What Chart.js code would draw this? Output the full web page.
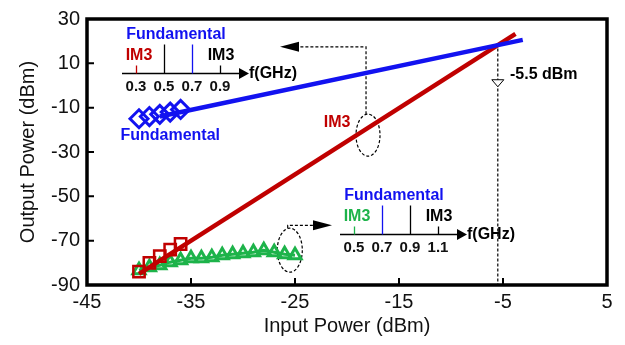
<!DOCTYPE html>
<html>
<head>
<meta charset="utf-8">
<script src="https://cdn.jsdelivr.net/npm/chart.js@4.4.1/dist/chart.umd.min.js"></script>
<style>
  html, body { margin: 0; padding: 0; background: #fff; }
</style>
</head>
<body>
<canvas id="chart" width="625" height="345"></canvas>
<script>
// measured points (input power dBm -> output power dBm)
var fundIn = [-40, -39, -38, -37, -36];
var fundOut = [-15, -14, -13, -12, -10.8];
var im3In = [-40, -39, -38, -37, -36];
var im3Out = [-84, -80, -77, -74, -71.5];
var im3bIn = [-40, -39, -38, -37, -36, -35, -34, -33, -32, -31, -30, -29, -28, -27, -26, -25];
var im3bOut = [-83.3, -82, -81.1, -79.7, -78.8, -77.9, -77.9, -77.5, -76.6, -76.1, -75.7, -75.2, -74.3, -75.2, -76.1, -76.6];

// fitted lines (end points)
var fundFitIn = [-38, -3.1];
var fundFitOut = [-14, 20.6];
var im3FitIn = [-40, -3.8];
var im3FitOut = [-85, 23.3];

var iip3 = -5.5;

var BLUE = '#1212f0';
var RED = '#c00000';
var GREEN = '#1db34a';
var FONT = "'Liberation Sans', Arial, sans-serif";

function pts(xs, ys) {
    return xs.map(function (x, i) { return { x: x, y: ys[i] }; });
}

// small spectrum insets, anchored at the left end of their f axis
var insets = [
    {
        at: [-41.6, 5.8],
        ticks: ['0.3', '0.5', '0.7', '0.9'],
        colors: [RED, '#000', BLUE, '#000'],
        im3Color: RED
    },
    {
        at: [-20.67, -67.2],
        ticks: ['0.5', '0.7', '0.9', '1.1'],
        colors: [GREEN, BLUE, '#000', '#000'],
        im3Color: GREEN
    }
];

var decor = {
    id: 'decor',
    beforeDatasetsDraw: function (chart) {
        var ctx = chart.ctx, a = chart.chartArea;
        var xs = chart.scales.x, ys = chart.scales.y;
        ctx.save();
        ctx.strokeStyle = '#000';
        // inward ticks
        ctx.lineWidth = 2;
        ctx.beginPath();
        xs.ticks.forEach(function (t) {
            var px = xs.getPixelForValue(t.value);
            ctx.moveTo(px, a.bottom);
            ctx.lineTo(px, a.bottom - 7);
        });
        ys.ticks.forEach(function (t) {
            var py = ys.getPixelForValue(t.value);
            ctx.moveTo(a.left, py);
            ctx.lineTo(a.left + 7, py);
        });
        ctx.stroke();
        ctx.lineWidth = 3.5;
        ctx.strokeRect(a.left, a.top, a.right - a.left, a.bottom - a.top);

        // dashed helpers
        ctx.lineWidth = 1.2;
        ctx.setLineDash([3, 2]);
        var X = function (v) { return xs.getPixelForValue(v); };
        var Y = function (v) { return ys.getPixelForValue(v); };
        // IIP3 vertical
        ctx.beginPath();
        ctx.moveTo(X(iip3), Y(19));
        ctx.lineTo(X(iip3), a.bottom);
        ctx.stroke();
        // ellipse on IM3 line + arrow to upper inset
        ctx.beginPath();
        ctx.ellipse(X(-17.98), Y(-22.4), 12, 21, 0, 0, Math.PI * 2);
        ctx.stroke();
        ctx.beginPath();
        ctx.moveTo(X(-18.17), Y(-22.4) - 21);
        ctx.lineTo(X(-18.17), Y(17.46));
        ctx.lineTo(X(-24.5), Y(17.46));
        ctx.stroke();
        // ellipse on green points + arrow to lower inset
        ctx.beginPath();
        ctx.ellipse(X(-25.5), Y(-74.3), 12.5, 22, 0, 0, Math.PI * 2);
        ctx.stroke();
        ctx.beginPath();
        ctx.moveTo(X(-25.7), Y(-74.3) - 22);
        ctx.lineTo(X(-25.7), Y(-63.1));
        ctx.lineTo(X(-23.2), Y(-63.1));
        ctx.stroke();
        ctx.setLineDash([]);
        ctx.fillStyle = '#000';
        ctx.beginPath();
        ctx.moveTo(X(-26.44), Y(17.46));
        ctx.lineTo(X(-26.44) + 19, Y(17.46) - 5);
        ctx.lineTo(X(-26.44) + 19, Y(17.46) + 5);
        ctx.closePath();
        ctx.fill();
        ctx.beginPath();
        ctx.moveTo(X(-21.44), Y(-63.1));
        ctx.lineTo(X(-21.44) - 19, Y(-63.1) - 5);
        ctx.lineTo(X(-21.44) - 19, Y(-63.1) + 5);
        ctx.closePath();
        ctx.fill();
        // open down triangle on IIP3 line
        ctx.fillStyle = '#fff';
        ctx.lineWidth = 1;
        ctx.beginPath();
        ctx.moveTo(X(iip3) - 6, Y(2.6));
        ctx.lineTo(X(iip3) + 6, Y(2.6));
        ctx.lineTo(X(iip3), Y(2.6) + 7);
        ctx.closePath();
        ctx.fill();
        ctx.stroke();
        ctx.restore();
    },
    afterDatasetsDraw: function (chart) {
        var ctx = chart.ctx;
        var xs = chart.scales.x, ys = chart.scales.y;
        var X = function (v) { return xs.getPixelForValue(v); };
        var Y = function (v) { return ys.getPixelForValue(v); };
        ctx.save();
        ctx.textBaseline = 'middle';
        ctx.textAlign = 'center';
        ctx.font = 'bold 16px ' + FONT;
        ctx.fillStyle = RED;
        ctx.fillText('IM3', X(-20.96), Y(-16.6));
        ctx.fillStyle = BLUE;
        ctx.fillText('Fundamental', X(-37.0), Y(-22.4));
        ctx.fillStyle = '#000';
        ctx.textAlign = 'left';
        ctx.fillText('-5.5 dBm', X(-4.33), Y(4.9));

        var tickDx = [14, 42, 70, 98];
        var tall = [false, true, true, false];
        insets.forEach(function (ins) {
            var ox = Math.round(X(ins.at[0])), oy = Math.round(Y(ins.at[1])) + 0.5;
            ctx.strokeStyle = '#000';
            ctx.lineWidth = 1.5;
            ctx.beginPath();
            ctx.moveTo(ox, oy);
            ctx.lineTo(ox + 118, oy);
            ctx.stroke();
            ctx.fillStyle = '#000';
            ctx.beginPath();
            ctx.moveTo(ox + 127, oy);
            ctx.lineTo(ox + 117, oy - 5.5);
            ctx.lineTo(ox + 117, oy + 5.5);
            ctx.closePath();
            ctx.fill();
            ctx.lineWidth = 1.3;
            tickDx.forEach(function (dx, i) {
                ctx.strokeStyle = ins.colors[i];
                ctx.beginPath();
                ctx.moveTo(ox + dx + 0.5, oy);
                ctx.lineTo(ox + dx + 0.5, oy - (tall[i] ? 29 : 8));
                ctx.stroke();
            });
            ctx.textAlign = 'center';
            ctx.font = 'bold 15px ' + FONT;
            ctx.fillStyle = '#111';
            tickDx.forEach(function (dx, i) {
                ctx.fillText(ins.ticks[i], ox + dx, oy + 13);
            });
            ctx.font = 'bold 16px ' + FONT;
            ctx.fillStyle = ins.im3Color;
            ctx.fillText('IM3', ox + 17, oy - 18);
            ctx.fillStyle = '#000';
            ctx.fillText('IM3', ox + 99, oy - 18);
            ctx.fillStyle = BLUE;
            ctx.fillText('Fundamental', ox + 54, oy - 39);
            ctx.fillStyle = '#000';
            ctx.textAlign = 'left';
            ctx.fillText('f(GHz)', ox + 127, oy);
        });
        ctx.restore();
    }
};

var ctx1 = document.getElementById('chart').getContext('2d');

var chart = new Chart(ctx1, {
    type: 'scatter',
    data: {
        datasets: [
            {
                label: 'Fundamental fit',
                data: pts(fundFitIn, fundFitOut),
                showLine: true,
                borderColor: BLUE,
                borderWidth: 4.5,
                pointRadius: 0
            },
            {
                label: 'IM3 fit',
                data: pts(im3FitIn, im3FitOut),
                showLine: true,
                borderColor: RED,
                borderWidth: 4.5,
                pointRadius: 0
            },
            {
                label: 'Fundamental',
                data: pts(fundIn, fundOut),
                pointStyle: 'rectRot',
                pointRadius: 9,
                borderColor: BLUE,
                backgroundColor: 'rgba(0,0,0,0)',
                borderWidth: 3
            },
            {
                label: 'IM3',
                data: pts(im3In, im3Out),
                pointStyle: 'rect',
                pointRadius: 8,
                borderColor: RED,
                backgroundColor: 'rgba(0,0,0,0)',
                borderWidth: 2.5
            },
            {
                label: 'IM3 (green)',
                data: pts(im3bIn, im3bOut),
                showLine: true,
                borderColor: GREEN,
                borderWidth: 3,
                pointStyle: 'triangle',
                pointRadius: 7,
                pointBorderColor: GREEN,
                pointBackgroundColor: 'rgba(0,0,0,0)',
                pointBorderWidth: 3
            }
        ]
    },
    options: {
        responsive: false,
        animation: false,
        layout: { padding: { top: 17, right: 18, left: 0, bottom: 0 } },
        plugins: { legend: { display: false }, tooltip: { enabled: false } },
        scales: {
            x: {
                type: 'linear',
                min: -45,
                max: 5,
                grid: { display: false, drawTicks: false },
                border: { display: false },
                afterFit: function (s) { s.height = 60; },
                ticks: { stepSize: 10, padding: 5, color: '#111', font: { family: FONT, size: 20 } },
                title: {
                    display: true,
                    text: 'Input Power (dBm)',
                    color: '#111',
                    padding: { top: 0, bottom: 7 },
                    font: { family: FONT, size: 20 }
                }
            },
            y: {
                type: 'linear',
                min: -90,
                max: 30,
                grid: { display: false, drawTicks: false },
                border: { display: false },
                afterFit: function (s) { s.width = 87; },
                ticks: { stepSize: 20, padding: 7, color: '#111', font: { family: FONT, size: 20 } },
                title: {
                    display: true,
                    text: 'Output Power (dBm)',
                    color: '#111',
                    padding: { top: 16, bottom: 0 },
                    font: { family: FONT, size: 20 }
                }
            }
        }
    },
    plugins: [decor]
});
</script>
</body>
</html>
